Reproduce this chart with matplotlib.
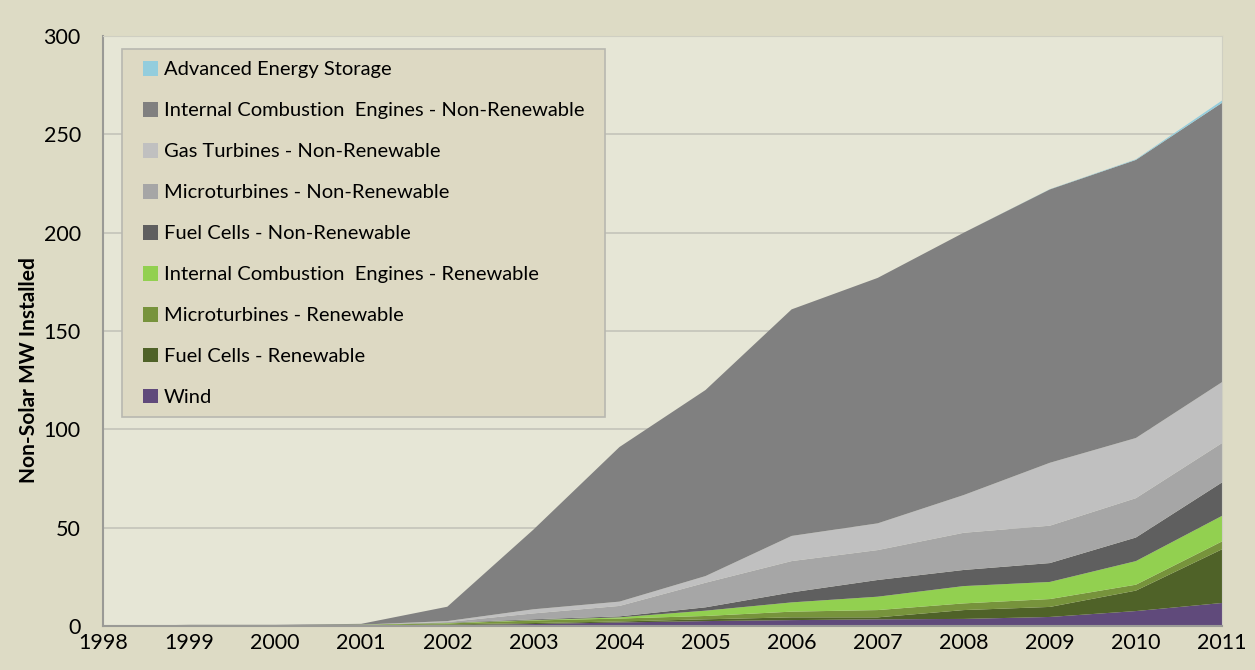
import numpy as np
import matplotlib
matplotlib.use("Agg")
import matplotlib.pyplot as plt
from matplotlib.patches import Patch, Rectangle

plt.rcParams['font.family'] = ['Lato', 'DejaVu Sans']

years = list(range(1998, 2012))

# stacked layers, bottom to top (MW installed per year)
wind = [0, 0.1, 0.1, 0.2, 0.5, 1.0, 1.8, 2.5, 3.0, 3.4, 3.6, 4.6, 7.6, 11.7]
fc_ren = [0, 0, 0, 0, 0.3, 0.5, 0.5, 0.9, 1.4, 1.0, 4.5, 5.1, 10.4, 27.3]
mt_ren = [0, 0.3, 0.3, 0.4, 0.5, 1.3, 1.5, 1.7, 2.9, 3.7, 3.4, 4.0, 3.0, 4.0]
ice_ren = [0, 0, 0, 0.1, 0.2, 0.2, 0.6, 2.7, 4.7, 6.8, 8.8, 8.7, 12.0, 13.0]
fc_nonren = [0, 0, 0, 0, 0.2, 0.4, 0.5, 1.7, 5.1, 8.5, 8.2, 9.6, 12.0, 17.0]
mt_nonren = [0, 0, 0, 0, 0.3, 3.0, 5.3, 12.5, 15.9, 15.2, 18.9, 19.0, 20.0, 20.0]
gt_nonren = [0, 0, 0, 0, 0.5, 2.1, 2.2, 3.4, 12.8, 13.6, 19.2, 32.0, 30.6, 31.0]
ice_nonren = [0, 0.2, 0.2, 0.4, 7.3, 40.5, 78.6, 94.6, 115.2, 124.8, 133.4, 139.0, 141.4, 142.0]
storage = [0, 0, 0, 0, 0, 0, 0, 0, 0, 0, 0, 0.1, 0.3, 1.2]

series = [wind, fc_ren, mt_ren, ice_ren, fc_nonren, mt_nonren, gt_nonren, ice_nonren, storage]
labels = ["Wind", "Fuel Cells - Renewable", "Microturbines - Renewable",
          "Internal Combustion  Engines - Renewable", "Fuel Cells - Non-Renewable",
          "Microturbines - Non-Renewable", "Gas Turbines - Non-Renewable",
          "Internal Combustion  Engines - Non-Renewable", "Advanced Energy Storage"]
colors = ["#604A7B", "#4F6228", "#77933C", "#92D050", "#5F5F5F",
          "#A6A6A6", "#C0C0C0", "#808080", "#93CDDD"]

W, H = 1255, 670
fig = plt.figure(figsize=(W / 100, H / 100), dpi=100, facecolor="#DDDBC5")
ax = fig.add_axes([103 / W, 1 - 626 / H, (1222 - 103) / W, (626 - 36) / H])
ax.set_facecolor("#E6E6D6")

ax.stackplot(years, *series, colors=colors, linewidth=0)

ax.set_xlim(1998, 2011)
ax.set_ylim(0, 300)
ax.set_xticks(years)
ax.set_yticks(range(0, 301, 50))
ax.tick_params(length=0, labelsize=15.5)
ax.tick_params(axis="y", pad=16)
ax.tick_params(axis="x", pad=5)
ax.grid(axis="y", color="#C4C4BA", linewidth=1.2)
ax.set_axisbelow(True)
for side in ["top", "right"]:
    ax.spines[side].set_color("#CFCFC2")
for side in ["left", "bottom"]:
    ax.spines[side].set_color("#9A9A96")
    ax.spines[side].set_linewidth(1.5)

ax.set_ylabel("Non-Solar MW Installed", fontsize=15, fontweight="bold")
ax.yaxis.set_label_coords((39 - 103) / (1222 - 103), (626 - 370) / (626 - 36))

# legend box drawn by hand, entries placed inside it
fig.patches.append(Rectangle((122 / W, 1 - 417 / H), (605 - 122) / W, (417 - 49) / H,
                             transform=fig.transFigure, facecolor="#DDD9C3",
                             edgecolor="#B8B8B0", linewidth=1.2, zorder=5))
handles = [Patch(facecolor=c, edgecolor="none") for c in colors]
leg = fig.legend(handles[::-1], labels[::-1], loc="upper left",
                 bbox_to_anchor=(143 / W, 1 - 61 / H),
                 fontsize=14.5, frameon=False,
                 labelspacing=1.17, handlelength=0.75, handleheight=0.75,
                 handletextpad=0.3, borderpad=0, borderaxespad=0)
leg.set_zorder(6)

fig.savefig("out.png", dpi=100, facecolor=fig.get_facecolor())
